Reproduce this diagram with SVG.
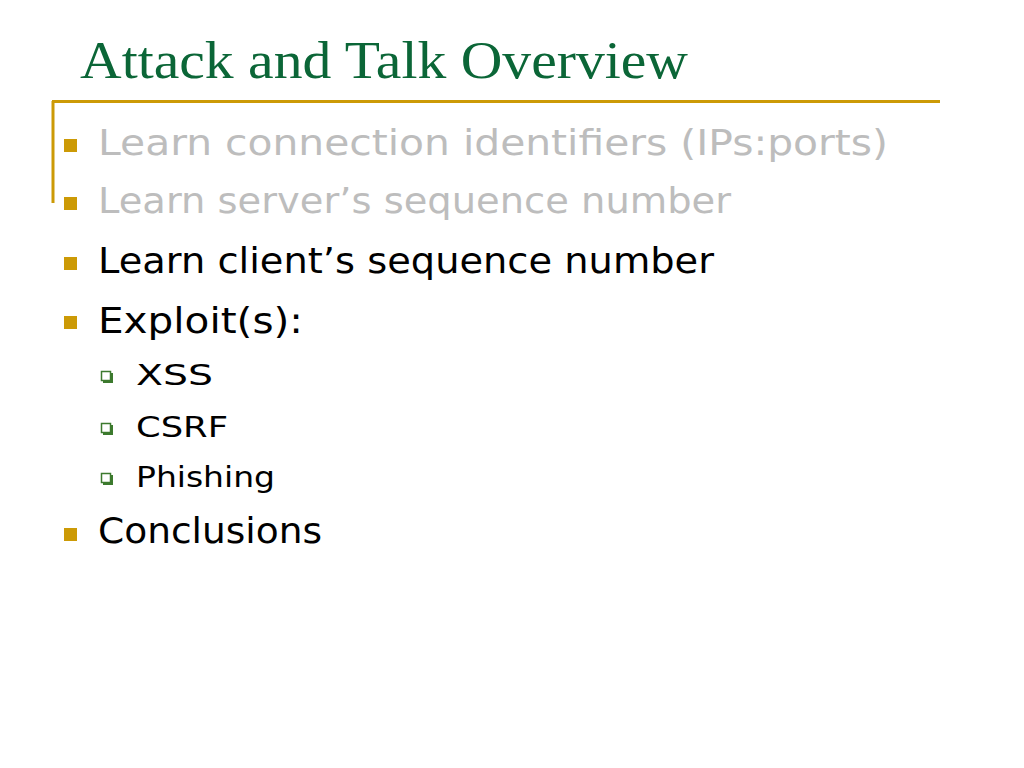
<svg xmlns="http://www.w3.org/2000/svg" width="1024" height="768" viewBox="0 0 1024 768">
<defs>
<style>
.title{font-family:"Liberation Serif","DejaVu Serif",serif;font-size:52px;fill:#0B6637;}
.b{font-family:"DejaVu Sans","Noto Sans",sans-serif;font-size:35px;}
.s{font-family:"DejaVu Sans","Noto Sans",sans-serif;font-size:29px;fill:#000;}
.gray{fill:#BDBDBD;}
.blk{fill:#000;}
.sq{fill:#CC9A06;}
.hsq{fill:#fff;stroke:#3C7A2E;stroke-width:1.5;}
.hsh{fill:#3C7A2E;}
.rule{stroke:#CC9A06;stroke-width:3;fill:none;}
</style>
</defs>
<rect width="1024" height="768" fill="#fff"/>
<text class="title" x="80" y="78" textLength="608" lengthAdjust="spacingAndGlyphs">Attack and Talk Overview</text>
<path class="rule" d="M52,101.5 H940 M53,101 V203"/>
<g id="item1">
<rect class="sq" x="64" y="139" width="13" height="13"/>
<text class="b gray" x="98" y="155" textLength="790" lengthAdjust="spacingAndGlyphs">Learn connection identifiers (IPs:ports)</text>
</g>
<g id="item2">
<rect class="sq" x="64" y="197" width="13" height="13"/>
<text class="b gray" x="98" y="213" textLength="633" lengthAdjust="spacingAndGlyphs">Learn server’s sequence number</text>
</g>
<g id="item3">
<rect class="sq" x="64" y="257" width="13" height="13"/>
<text class="b blk" x="98" y="273" textLength="616" lengthAdjust="spacingAndGlyphs">Learn client’s sequence number</text>
</g>
<g id="item4">
<rect class="sq" x="64" y="316" width="13" height="13"/>
<text class="b blk" x="98" y="333" textLength="205" lengthAdjust="spacingAndGlyphs">Exploit(s):</text>
</g>
<g id="sub1">
<rect class="hsh" x="103" y="373" width="10" height="10"/>
<rect class="hsq" x="101.5" y="371.5" width="9" height="9"/>
<text class="s" x="136" y="385" textLength="77" lengthAdjust="spacingAndGlyphs">XSS</text>
</g>
<g id="sub2">
<rect class="hsh" x="103" y="425" width="10" height="10"/>
<rect class="hsq" x="101.5" y="423.5" width="9" height="9"/>
<text class="s" x="136" y="437" textLength="92" lengthAdjust="spacingAndGlyphs">CSRF</text>
</g>
<g id="sub3">
<rect class="hsh" x="103" y="475" width="10" height="10"/>
<rect class="hsq" x="101.5" y="473.5" width="9" height="9"/>
<text class="s" x="136" y="487" textLength="139" lengthAdjust="spacingAndGlyphs">Phishing</text>
</g>
<g id="item5">
<rect class="sq" x="64" y="528" width="13" height="13"/>
<text class="b blk" x="98" y="543" textLength="224" lengthAdjust="spacingAndGlyphs">Conclusions</text>
</g>
</svg>
